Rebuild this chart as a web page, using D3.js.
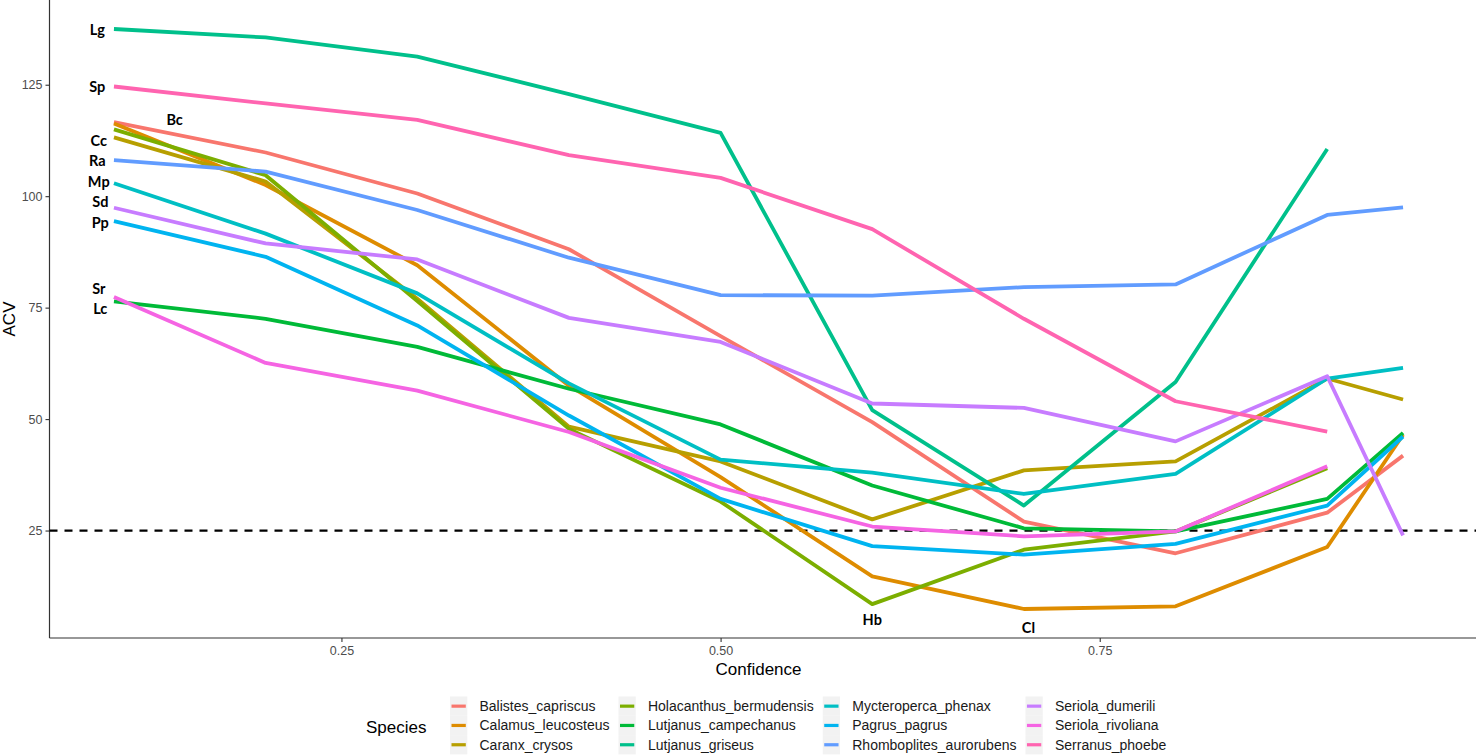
<!DOCTYPE html>
<html>
<head>
<meta charset="utf-8">
<script src="https://cdn.jsdelivr.net/npm/d3@7"></script>
<style>
  body { margin: 0; background: #fff; }
  svg { display: block; }
</style>
</head>
<body>
<svg id="chart" width="1476" height="755"></svg>
<script>
// confidence levels on the x axis
const confidence = [0.1, 0.2, 0.3, 0.4, 0.5, 0.6, 0.7, 0.8, 0.9, 0.95];

const species = [
  "Balistes_capriscus", "Calamus_leucosteus", "Caranx_crysos",
  "Holacanthus_bermudensis", "Lutjanus_campechanus", "Lutjanus_griseus",
  "Mycteroperca_phenax", "Pagrus_pagrus", "Rhomboplites_aurorubens",
  "Seriola_dumerili", "Seriola_rivoliana", "Serranus_phoebe"
];

// ACV per species (null = no value at that confidence)
const balistes     = [116.6, 109.8, 100.6, 88.1, 68.6, 49.3, 27.0, 19.9, 29.0, 41.8];
const calamus      = [116.3, 102.5, 84.5, 57.5, 37.0, 14.7, 7.4, 8.0, 21.3, 46.5];
const caranx       = [113.2, 103.3, 77.0, 48.3, 40.5, 27.5, 38.5, 40.5, 59.1, 54.4];
const holacanthus  = [115.0, 104.7, 76.5, 47.8, 31.5, 8.5, 20.7, 24.8, 39.0, null];
const lCampechanus = [76.4, 72.5, 66.2, 56.8, 48.8, 35.1, 25.5, 24.8, 32.1, 46.9];
const lGriseus     = [137.5, 135.6, 131.3, 122.9, 114.2, 52.0, 30.6, 58.3, 110.6, null];
const mycteroperca = [102.9, 91.6, 78.2, 58.0, 40.9, 38.0, 33.2, 37.7, 59.1, 61.5];
const pagrus       = [94.4, 86.4, 71.0, 50.8, 32.1, 21.5, 19.6, 22.0, 30.6, 46.1];
const rhomboplites = [108.1, 105.5, 96.9, 86.2, 77.8, 77.7, 79.6, 80.2, 95.8, 97.5];
const sDumerili    = [97.4, 89.4, 85.8, 72.7, 67.3, 53.5, 52.5, 45.0, 59.6, 23.9];
const sRivoliana   = [77.4, 62.6, 56.4, 47.1, 34.6, 25.9, 23.7, 24.8, 39.4, null];
const sPhoebe      = [124.6, 120.8, 117.1, 109.2, 104.1, 92.6, 72.5, 54.0, 47.2, null];

const seriesValues = [balistes, calamus, caranx, holacanthus, lCampechanus, lGriseus,
  mycteroperca, pagrus, rhomboplites, sDumerili, sRivoliana, sPhoebe];

const threshold = 25;
const xTicks = [0.25, 0.50, 0.75];
const yTicks = [25, 50, 75, 100, 125];

// species code labels placed on the plot (data coordinates)
const labelText = ["Lg", "Sp", "Bc", "Cc", "Ra", "Mp", "Sd", "Pp", "Sr", "Lc", "Hb", "Cl"];
const labelConf = [0.089, 0.089, 0.140, 0.090, 0.089, 0.090, 0.091, 0.091, 0.090, 0.091, 0.600, 0.703];
const labelAcv  = [137.5, 124.7, 117.3, 112.6, 107.9, 103.4, 98.9, 94.2, 79.4, 74.9, 5.0, 3.2];

const colors = ["#F8766D", "#DE8C00", "#B79F00", "#7CAE00", "#00BA38", "#00C08B",
  "#00BFC4", "#00B4F0", "#619CFF", "#C77CFF", "#F564E3", "#FF64B0"];

const svg = d3.select("#chart");
const W = 1476;
const panel = { left: 49.5, right: 1467.5, top: 0, bottom: 638 };

// ggplot-like 5% expansion
const allVals = seriesValues.flat().filter(v => v !== null);
const [yMin, yMax] = d3.extent(allVals);
const ySpan = yMax - yMin;
const xSpan = d3.max(confidence) - d3.min(confidence);

const x = d3.scaleLinear()
  .domain([d3.min(confidence) - 0.05 * xSpan, d3.max(confidence) + 0.05 * xSpan])
  .range([panel.left, panel.right]);
const y = d3.scaleLinear()
  .domain([yMin - 0.05 * ySpan, yMax + 0.05 * ySpan])
  .range([panel.bottom, panel.top]);

// axes
const xAxis = svg.append("g")
  .attr("transform", `translate(0,${panel.bottom})`)
  .call(d3.axisBottom(x).tickValues(xTicks).tickFormat(d3.format(".2f")).tickSizeOuter(0).tickSize(4));
xAxis.select(".domain").remove();
svg.append("line")
  .attr("x1", panel.left).attr("x2", W)
  .attr("y1", panel.bottom).attr("y2", panel.bottom)
  .attr("stroke", "#333").attr("stroke-width", 1.2);

const yAxis = svg.append("g")
  .attr("transform", `translate(${panel.left},0)`)
  .call(d3.axisLeft(y).tickValues(yTicks).tickSizeOuter(0).tickSize(4));
yAxis.select(".domain").remove();
svg.append("line")
  .attr("x1", panel.left).attr("x2", panel.left)
  .attr("y1", panel.top).attr("y2", panel.bottom)
  .attr("stroke", "#333").attr("stroke-width", 1.2);

svg.selectAll(".tick line").attr("stroke", "#333").attr("stroke-width", 1.1);
svg.selectAll(".tick text")
  .attr("fill", "#4D4D4D")
  .style("font-family", "'Liberation Sans', Arial, sans-serif")
  .style("font-size", "12.5px");
xAxis.selectAll(".tick text").attr("y", 6).attr("dy", "0.85em");

// axis titles
svg.append("text")
  .attr("x", (panel.left + panel.right) / 2).attr("y", 675)
  .attr("text-anchor", "middle")
  .style("font-family", "'Liberation Sans', Arial, sans-serif")
  .style("font-size", "17px")
  .text("Confidence");
svg.append("text")
  .attr("transform", `translate(15,${(panel.top + panel.bottom) / 2}) rotate(-90)`)
  .attr("text-anchor", "middle")
  .style("font-family", "'Liberation Sans', Arial, sans-serif")
  .style("font-size", "17px")
  .text("ACV");

// threshold line
svg.append("line")
  .attr("x1", panel.left).attr("x2", W)
  .attr("y1", y(threshold)).attr("y2", y(threshold))
  .attr("stroke", "#000").attr("stroke-width", 2.2)
  .attr("stroke-dasharray", "8,7");

// series lines
const line = d3.line()
  .defined(d => d.v !== null)
  .x(d => x(d.c))
  .y(d => y(d.v));

svg.append("g").selectAll("path")
  .data(seriesValues)
  .join("path")
  .attr("d", vals => line(vals.map((v, i) => ({ c: confidence[i], v }))))
  .attr("fill", "none")
  .attr("stroke", (d, i) => colors[i])
  .attr("stroke-width", 3.8)
  .attr("stroke-linejoin", "round");

// code labels
svg.append("g").selectAll("text")
  .data(labelText)
  .join("text")
  .attr("x", (d, i) => x(labelConf[i]))
  .attr("y", (d, i) => y(labelAcv[i]))
  .attr("text-anchor", "middle")
  .attr("dominant-baseline", "central")
  .style("font-family", "Lato, 'Open Sans', sans-serif")
  .style("font-weight", "bold")
  .style("font-size", "14.5px")
  .text(d => d);

// legend
const legend = svg.append("g");
legend.append("text")
  .attr("x", 366).attr("y", 727)
  .attr("dominant-baseline", "central")
  .style("font-family", "'Liberation Sans', Arial, sans-serif")
  .style("font-size", "17px")
  .text("Species");

const rowsPerCol = 3;
const keyW = 17.3, keyH = 19.3, keyTop = 696.5;
let colX = 450;
for (let c = 0; c < Math.ceil(species.length / rowsPerCol); c++) {
  let maxW = 0;
  for (let r = 0; r < rowsPerCol; r++) {
    const i = c * rowsPerCol + r;
    if (i >= species.length) break;
    const ky = keyTop + r * keyH;
    legend.append("rect")
      .attr("x", colX).attr("y", ky)
      .attr("width", keyW).attr("height", keyH)
      .attr("fill", "#F2F2F2");
    legend.append("line")
      .attr("x1", colX + 1.5).attr("x2", colX + keyW - 1.5)
      .attr("y1", ky + keyH / 2).attr("y2", ky + keyH / 2)
      .attr("stroke", colors[i]).attr("stroke-width", 3.2);
    const t = legend.append("text")
      .attr("x", colX + 29.5).attr("y", ky + keyH / 2)
      .attr("dominant-baseline", "central")
      .style("font-family", "'Liberation Sans', Arial, sans-serif")
      .style("font-size", "14px")
      .attr("fill", "#1a1a1a")
      .text(species[i]);
    maxW = Math.max(maxW, t.node().getComputedTextLength());
  }
  colX = colX + 29.5 + maxW + 9;
}
</script>
</body>
</html>
